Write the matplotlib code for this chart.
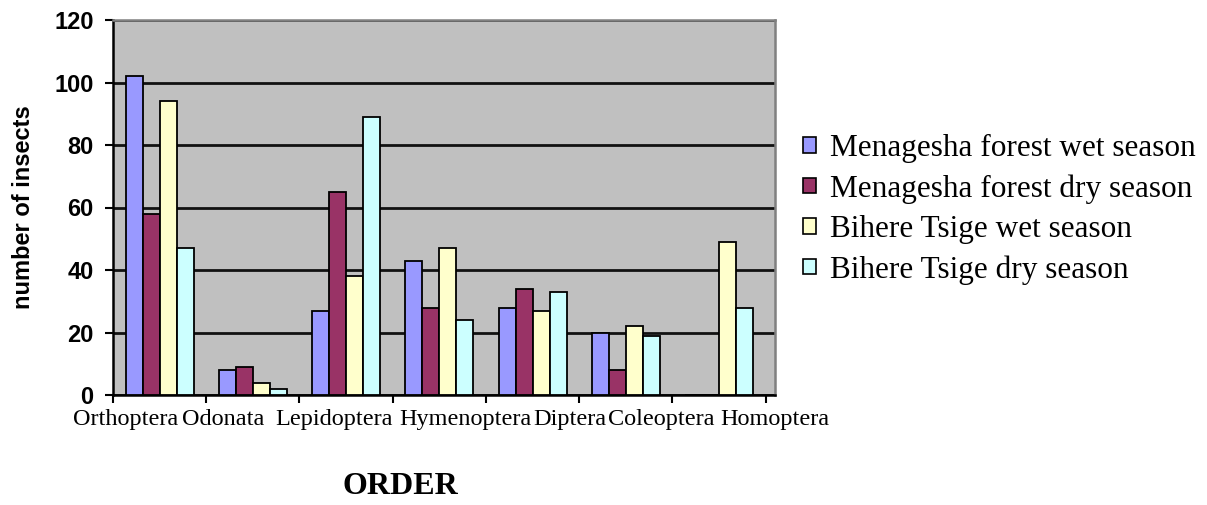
import numpy as np
import matplotlib
matplotlib.use("Agg")
import matplotlib.pyplot as plt
from matplotlib.patches import Patch

# insect counts per order, four site/season series
orders = ["Orthoptera", "Odonata", "Lepidoptera", "Hymenoptera",
          "Diptera", "Coleoptera", "Homoptera"]
series_names = ["Menagesha forest wet season", "Menagesha forest dry season",
                "Bihere Tsige wet season", "Bihere Tsige dry season"]
menagesha_wet = [102, 8, 27, 43, 28, 20, 0]
menagesha_dry = [58, 9, 65, 28, 34, 8, 0]
bihere_wet = [94, 4, 38, 47, 27, 22, 49]
bihere_dry = [47, 2, 89, 24, 33, 19, 28]
yticks = [0, 20, 40, 60, 80, 100, 120]

colors = ["#9999FF", "#993366", "#FFFFCC", "#CCFFFF"]
# labels sit packed along the axis rather than centred on their group
label_shift = [-0.36, -0.32, -0.13, 0.28, 0.40, 0.38, 0.60]

serif = "Liberation Serif"
sans = "Liberation Sans"

fig = plt.figure(figsize=(12.07, 5.05), dpi=100)
ax = fig.add_axes([113 / 1207, 110 / 505, 662 / 1207, 375 / 505])
ax.set_facecolor("#C0C0C0")

x = np.arange(len(orders))
w = 0.182
all_series = [menagesha_wet, menagesha_dry, bihere_wet, bihere_dry]
for k, vals in enumerate(all_series):
    ax.bar(x + (k - 1.5) * w, vals, width=w, color=colors[k],
           edgecolor="black", linewidth=1.3, zorder=3)

ax.set_xlim(-0.5, len(orders) - 0.5)
ax.set_ylim(0, 120)
ax.set_yticks(yticks)
ax.set_yticklabels([str(t) for t in yticks], fontfamily=sans,
                   fontweight="bold", fontsize=17)
ax.yaxis.grid(True, color="#111111", linewidth=2.0, zorder=1)
ax.set_axisbelow(True)

# category boundaries get the tick marks, labels float on their own
ax.set_xticks(np.arange(len(orders) + 1) - 0.5, minor=True)
ax.set_xticks(x + np.array(label_shift))
ax.set_xticklabels(orders, fontfamily=serif, fontsize=17.5)
ax.tick_params(axis="x", which="major", length=0, pad=10)
ax.tick_params(axis="x", which="minor", length=6, width=1.5, direction="out")
ax.tick_params(axis="y", length=6, width=1.5, direction="out", pad=8)

for s in ["left", "bottom"]:
    ax.spines[s].set_color("black")
    ax.spines[s].set_linewidth(1.8)
for s in ["top", "right"]:
    ax.spines[s].set_color("#808080")
    ax.spines[s].set_linewidth(1.8)

ax.set_ylabel("number of insects", fontfamily=sans, fontweight="bold",
              fontsize=17)
ax.yaxis.set_label_coords(-0.118, 0.5)

fig.text(400 / 1207, 1 - 487 / 505, "ORDER", fontfamily=serif,
         fontweight="bold", fontsize=23, ha="center", va="center")

handles = [Patch(facecolor=c, edgecolor="black", linewidth=1.2)
           for c in colors]
fig.legend(handles, series_names, loc="upper left",
           bbox_to_anchor=(803 / 1207, 1 - 134 / 505), frameon=False,
           prop={"family": serif, "size": 22.5}, handlelength=0.4,
           handleheight=0.4, handletextpad=0.45, labelspacing=0.36,
           borderpad=0, borderaxespad=0)

fig.savefig("out.png", dpi=100)
